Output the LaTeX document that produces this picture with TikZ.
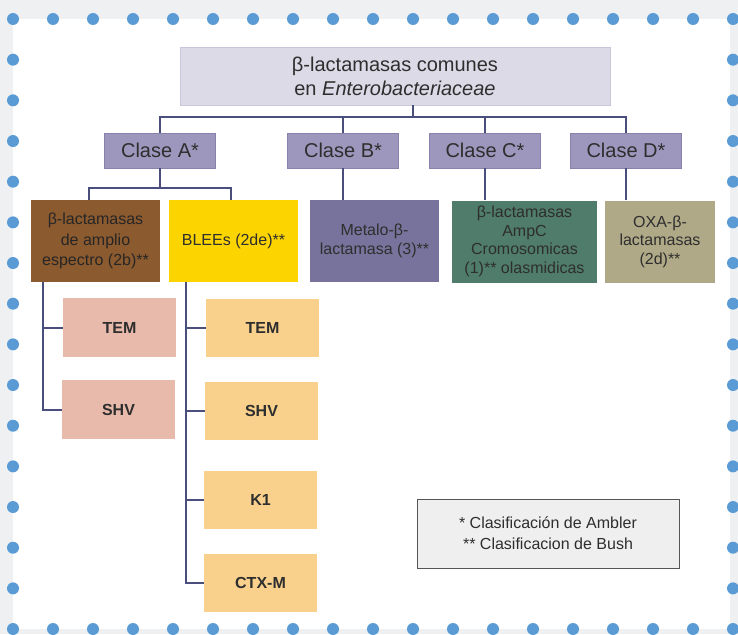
\documentclass[tikz,border=0pt]{standalone}
\usepackage{fontspec}
\setmainfont{Liberation Sans}
\usepackage{tikz}
\usetikzlibrary{positioning,calc}
\definecolor{outerbg}{HTML}{EEF0F2}
\definecolor{dotblue}{HTML}{5B9BD5}
\definecolor{titlefill}{HTML}{DDDAE7}
\definecolor{titleline}{HTML}{CAC6D9}
\definecolor{classfill}{HTML}{9D97BD}
\definecolor{classline}{HTML}{8882AC}
\definecolor{treeline}{HTML}{4A4E7C}
\definecolor{brownfill}{HTML}{8C5A2F}
\definecolor{yellowfill}{HTML}{FCD500}
\definecolor{metalofill}{HTML}{77739C}
\definecolor{greenfill}{HTML}{4F7C6B}
\definecolor{khakifill}{HTML}{AFA987}
\definecolor{pinkfill}{HTML}{E7BAAB}
\definecolor{tanfill}{HTML}{F9D18D}
\definecolor{notefill}{HTML}{EFEFEF}
\definecolor{noteline}{HTML}{555555}
\definecolor{boxtext}{HTML}{2E2E2E}
\tikzset{% 
  base box/.style={%
    inner sep=0pt,
    align=center,
    text=boxtext
  }
}
\tikzset{% 
  title box/.style={%
    base box, fill=titlefill, draw=titleline,
    minimum width=430pt, minimum height=58pt,
    font=\fontsize{20}{24}\selectfont
  },
  class box/.style={%
    base box, fill=classfill, draw=classline,
    minimum width=111pt, minimum height=35pt,
    font=\fontsize{20}{24}\selectfont
  },
  group box/.style={%
    base box, minimum width=129pt, minimum height=82pt,
    font=\fontsize{16}{18.5}\selectfont
  },
  leaf box/.style={%
    base box, minimum width=113pt, minimum height=59pt,
    font=\fontsize{16}{19}\selectfont\bfseries
  },
  note box/.style={%
    base box, fill=notefill, draw=noteline, line width=1pt,
    minimum width=262pt, minimum height=69pt,
    font=\fontsize{16}{21}\selectfont
  },
  tree line/.style={%
    draw=treeline, line width=2pt
  }
}

\begin{document}
\begin{tikzpicture}[x=1pt,y=-1pt]
  \useasboundingbox (0,0) rectangle (738,634);
  \fill [outerbg] (0,0) rectangle (738,634);
  \fill [white] (13,19) rectangle (730,629);
  \foreach \i in {0,...,18} {
    \fill [dotblue] (13+40*\i, 19) circle (6pt);
    \fill [dotblue] (13+40*\i, 629) circle (6pt);
  }
  \foreach \j in {1,...,14} {
    \fill [dotblue] (13, 19+40.67*\j) circle (6pt);
    \fill [dotblue] (733, 19+40.67*\j) circle (6pt);
  }

  \node [title box] (title) at (395, 76) {β-lactamasas comunes\\en \textit{Enterobacteriaceae}};
  \node [class box] (clA) at (160, 150.5) {Clase A*};
  \node [class box] (clB) at (343, 150.5) {Clase B*};
  \node [class box] (clC) at (485, 150.5) {Clase C*};
  \node [class box] (clD) at (626, 150.5) {Clase D*};

  \node [group box, fill=brownfill, text=black!85, font=\fontsize{16}{20.5}\selectfont] (amplio) at (95.5, 241) {β-lactamasas\\de amplio\\espectro (2b)**};
  \node [group box, fill=yellowfill] (blees) at (233.5, 241) {BLEEs (2de)**};
  \node [group box, fill=metalofill] (metalo) at (374.5, 241) {Metalo-β-\\lactamasa (3)**};
  \node [group box, fill=greenfill, minimum width=145pt] (ampc) at (524.5, 241.5) {β-lactamasas\\AmpC\\Cromosomicas\\(1)** olasmidicas};
  \node [group box, fill=khakifill, minimum width=110pt] (oxa) at (660, 241.5) {OXA-β-\\lactamasas\\(2d)**};

  \node [leaf box, fill=pinkfill] (temA) at (119.5, 327.5) {TEM};
  \node [leaf box, fill=pinkfill] (shvA) at (118.5, 409.5) {SHV};
  \node [leaf box, fill=tanfill, minimum height=58pt] (temB) at (262.5, 327.5) {TEM};
  \node [leaf box, fill=tanfill, minimum height=58pt] (shvB) at (261.5, 411) {SHV};
  \node [leaf box, fill=tanfill, minimum height=58pt] (k1) at (260.5, 500) {K1};
  \node [leaf box, fill=tanfill, minimum height=58pt] (ctx) at (260.5, 583) {CTX-M};

  \node [note box] (note) at (548, 533.5) {* Clasificación de Ambler\\** Clasificacion de Bush};

  \coordinate (hub) at (413, 117);
  \coordinate (forkA) at (160, 188);
  \draw [tree line] (title.south -| hub) -- (hub);
  \draw [tree line] (clA.north) |- (hub) -| (clD.north);
  \draw [tree line] (clB.north) -- (clB.north |- hub);
  \draw [tree line] (clC.north) -- (clC.north |- hub);
  \draw [tree line] (clA.south) -- (forkA);
  \draw [tree line] ([xshift=-6.5pt]amplio.north) |- (forkA) -| ([xshift=-2.5pt]blees.north);
  \draw [tree line] (clB.south) -- (clB.south |- metalo.north);
  \draw [tree line] (clC.south) -- (clC.south |- ampc.north);
  \draw [tree line] (clD.south) -- (clD.south |- oxa.north);
  \foreach \leaf in {temA, shvA}
    \draw [tree line] ([xshift=12pt]amplio.south west) |- (\leaf.west);
  \foreach \leaf in {temB, shvB, k1, ctx}
    \draw [tree line] ([xshift=17pt]blees.south west) |- (\leaf.west);
\end{tikzpicture}
\end{document}
